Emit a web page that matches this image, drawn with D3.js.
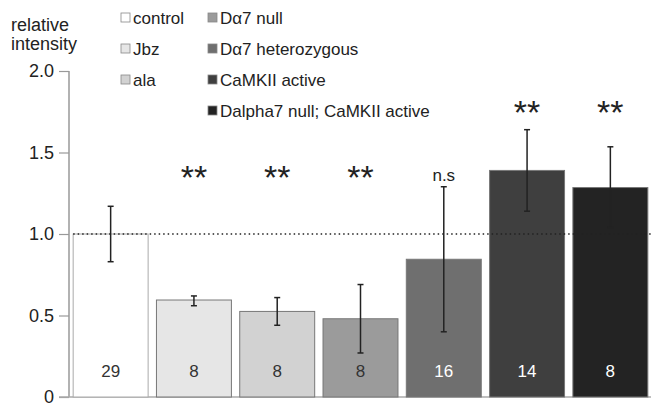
<!DOCTYPE html>
<html>
<head>
<meta charset="utf-8">
<script src="https://cdn.jsdelivr.net/npm/d3@7"></script>
<style>
  body { margin: 0; background: #fff; }
  text { font-family: "Liberation Sans", Arial, sans-serif; }
</style>
</head>
<body>
<svg id="chart" width="656" height="407"></svg>
<script>
// chart values
var groups = ["control", "Jbz", "ala", "D\u03b17 null", "D\u03b17 heterozygous", "CaMKII active", "Dalpha7 null; CaMKII active"];
var means = [1.0, 0.595, 0.525, 0.48, 0.845, 1.39, 1.285];
var errLow = [0.83, 0.56, 0.44, 0.27, 0.40, 1.14, 1.04];
var errHigh = [1.17, 0.62, 0.61, 0.69, 1.29, 1.64, 1.535];
var counts = ["29", "8", "8", "8", "16", "14", "8"];
var signif = ["", "**", "**", "**", "n.s", "**", "**"];
var fills = ["#ffffff", "#e6e6e6", "#d2d2d2", "#9b9b9b", "#6f6f6f", "#3f3f3f", "#232323"];
var yTicks = [0, 0.5, 1.0, 1.5, 2.0];

(function () {
  var svg = d3.select("#chart");

  var x = d3.scaleBand()
    .domain(groups)
    .range([69, 652])
    .paddingInner(0.1)
    .paddingOuter(0.05);

  var y = d3.scaleLinear().domain([0, 2]).range([397, 71]);

  // y axis
  var yAxis = svg.append("g")
    .attr("transform", "translate(69,0)")
    .call(d3.axisLeft(y).tickValues(yTicks)
      .tickFormat(function(d) { return d === 0 ? "0" : d3.format(".1f")(d); })
      .tickSize(10).tickPadding(5));
  yAxis.select(".domain").attr("stroke", "#999").attr("stroke-width", 1.5).attr("d", "M0," + y(2) + "V" + y(0));
  yAxis.selectAll(".tick line").attr("stroke", "#999").attr("stroke-width", 1.2);
  yAxis.selectAll(".tick text").attr("fill", "#222").style("font-size", "18px")
    .style("font-family", "'Liberation Sans', Arial, sans-serif");

  // baseline
  svg.append("line")
    .attr("x1", 59).attr("x2", 651)
    .attr("y1", y(0)).attr("y2", y(0))
    .attr("stroke", "#aaa").attr("stroke-width", 1.5);

  svg.append("text").attr("x", 11).attr("y", 31).attr("fill", "#222")
    .style("font-size", "18px").text("relative");
  svg.append("text").attr("x", 11).attr("y", 50).attr("fill", "#222")
    .style("font-size", "18px").text("intensity");

  var idx = d3.range(groups.length);

  // bars
  svg.selectAll("rect.bar").data(idx).enter().append("rect")
    .attr("class", "bar")
    .attr("x", function(i) { return x(groups[i]); })
    .attr("width", x.bandwidth())
    .attr("y", function(i) { return y(means[i]); })
    .attr("height", function(i) { return y(0) - y(means[i]); })
    .attr("fill", function(i) { return fills[i]; })
    .attr("stroke", function(i) { return i === 0 ? "#aaa" : "#777"; })
    .attr("stroke-width", 1);

  // dotted reference line at 1.0
  svg.append("line")
    .attr("x1", x(groups[0])).attr("x2", 652)
    .attr("y1", y(1)).attr("y2", y(1))
    .attr("stroke", "#222").attr("stroke-width", 1.3)
    .attr("stroke-dasharray", "1.5,3");

  // error bars
  var eb = svg.selectAll("g.err").data(idx).enter().append("g").attr("class", "err")
    .attr("transform", function(i) { return "translate(" + (x(groups[i]) + x.bandwidth() / 2) + ",0)"; });
  eb.append("line")
    .attr("y1", function(i) { return y(errLow[i]); })
    .attr("y2", function(i) { return y(errHigh[i]); })
    .attr("stroke", "#222").attr("stroke-width", 1.5);
  eb.append("line").attr("x1", -3).attr("x2", 3)
    .attr("y1", function(i) { return y(errLow[i]); })
    .attr("y2", function(i) { return y(errLow[i]); })
    .attr("stroke", "#222").attr("stroke-width", 1.5);
  eb.append("line").attr("x1", -3).attr("x2", 3)
    .attr("y1", function(i) { return y(errHigh[i]); })
    .attr("y2", function(i) { return y(errHigh[i]); })
    .attr("stroke", "#222").attr("stroke-width", 1.5);

  // n counts
  svg.selectAll("text.count").data(idx).enter().append("text")
    .attr("class", "count")
    .attr("x", function(i) { return x(groups[i]) + x.bandwidth() / 2; })
    .attr("y", y(0) - 20)
    .attr("text-anchor", "middle")
    .attr("fill", function(i) { return i >= 4 ? "#fff" : "#333"; })
    .style("font-size", "17px")
    .text(function(i) { return counts[i]; });

  // significance marks, stars sit above error bars for the tall ones
  svg.selectAll("text.sig").data(idx.filter(function(i) { return signif[i]; })).enter().append("text")
    .attr("class", "sig")
    .attr("x", function(i) { return x(groups[i]) + x.bandwidth() / 2; })
    .attr("y", function(i) {
      var top = signif[i] === "n.s" ? 181 : 189;
      if (i >= 5) top = 124;
      return top;
    })
    .attr("text-anchor", "middle")
    .attr("fill", "#222")
    .style("font-size", function(i) { return signif[i] === "n.s" ? "17px" : "34px"; })
    .text(function(i) { return signif[i]; });

  // legend, two columns
  var legend = svg.selectAll("g.leg").data(idx).enter().append("g").attr("class", "leg")
    .attr("transform", function(i) {
      var col = i < 3 ? 0 : 1;
      var row = i < 3 ? i : i - 3;
      return "translate(" + (col === 0 ? 121 : 208) + "," + (13 + row * 31) + ")";
    });
  legend.append("rect")
    .attr("width", 9).attr("height", 9)
    .attr("fill", function(i) { return fills[i]; })
    .attr("stroke", "#888").attr("stroke-width", 0.8);
  legend.append("text")
    .attr("x", 12).attr("y", 10.5)
    .attr("fill", "#222")
    .style("font-size", "17px")
    .text(function(i) { return groups[i]; });
}());
</script>
</body>
</html>
